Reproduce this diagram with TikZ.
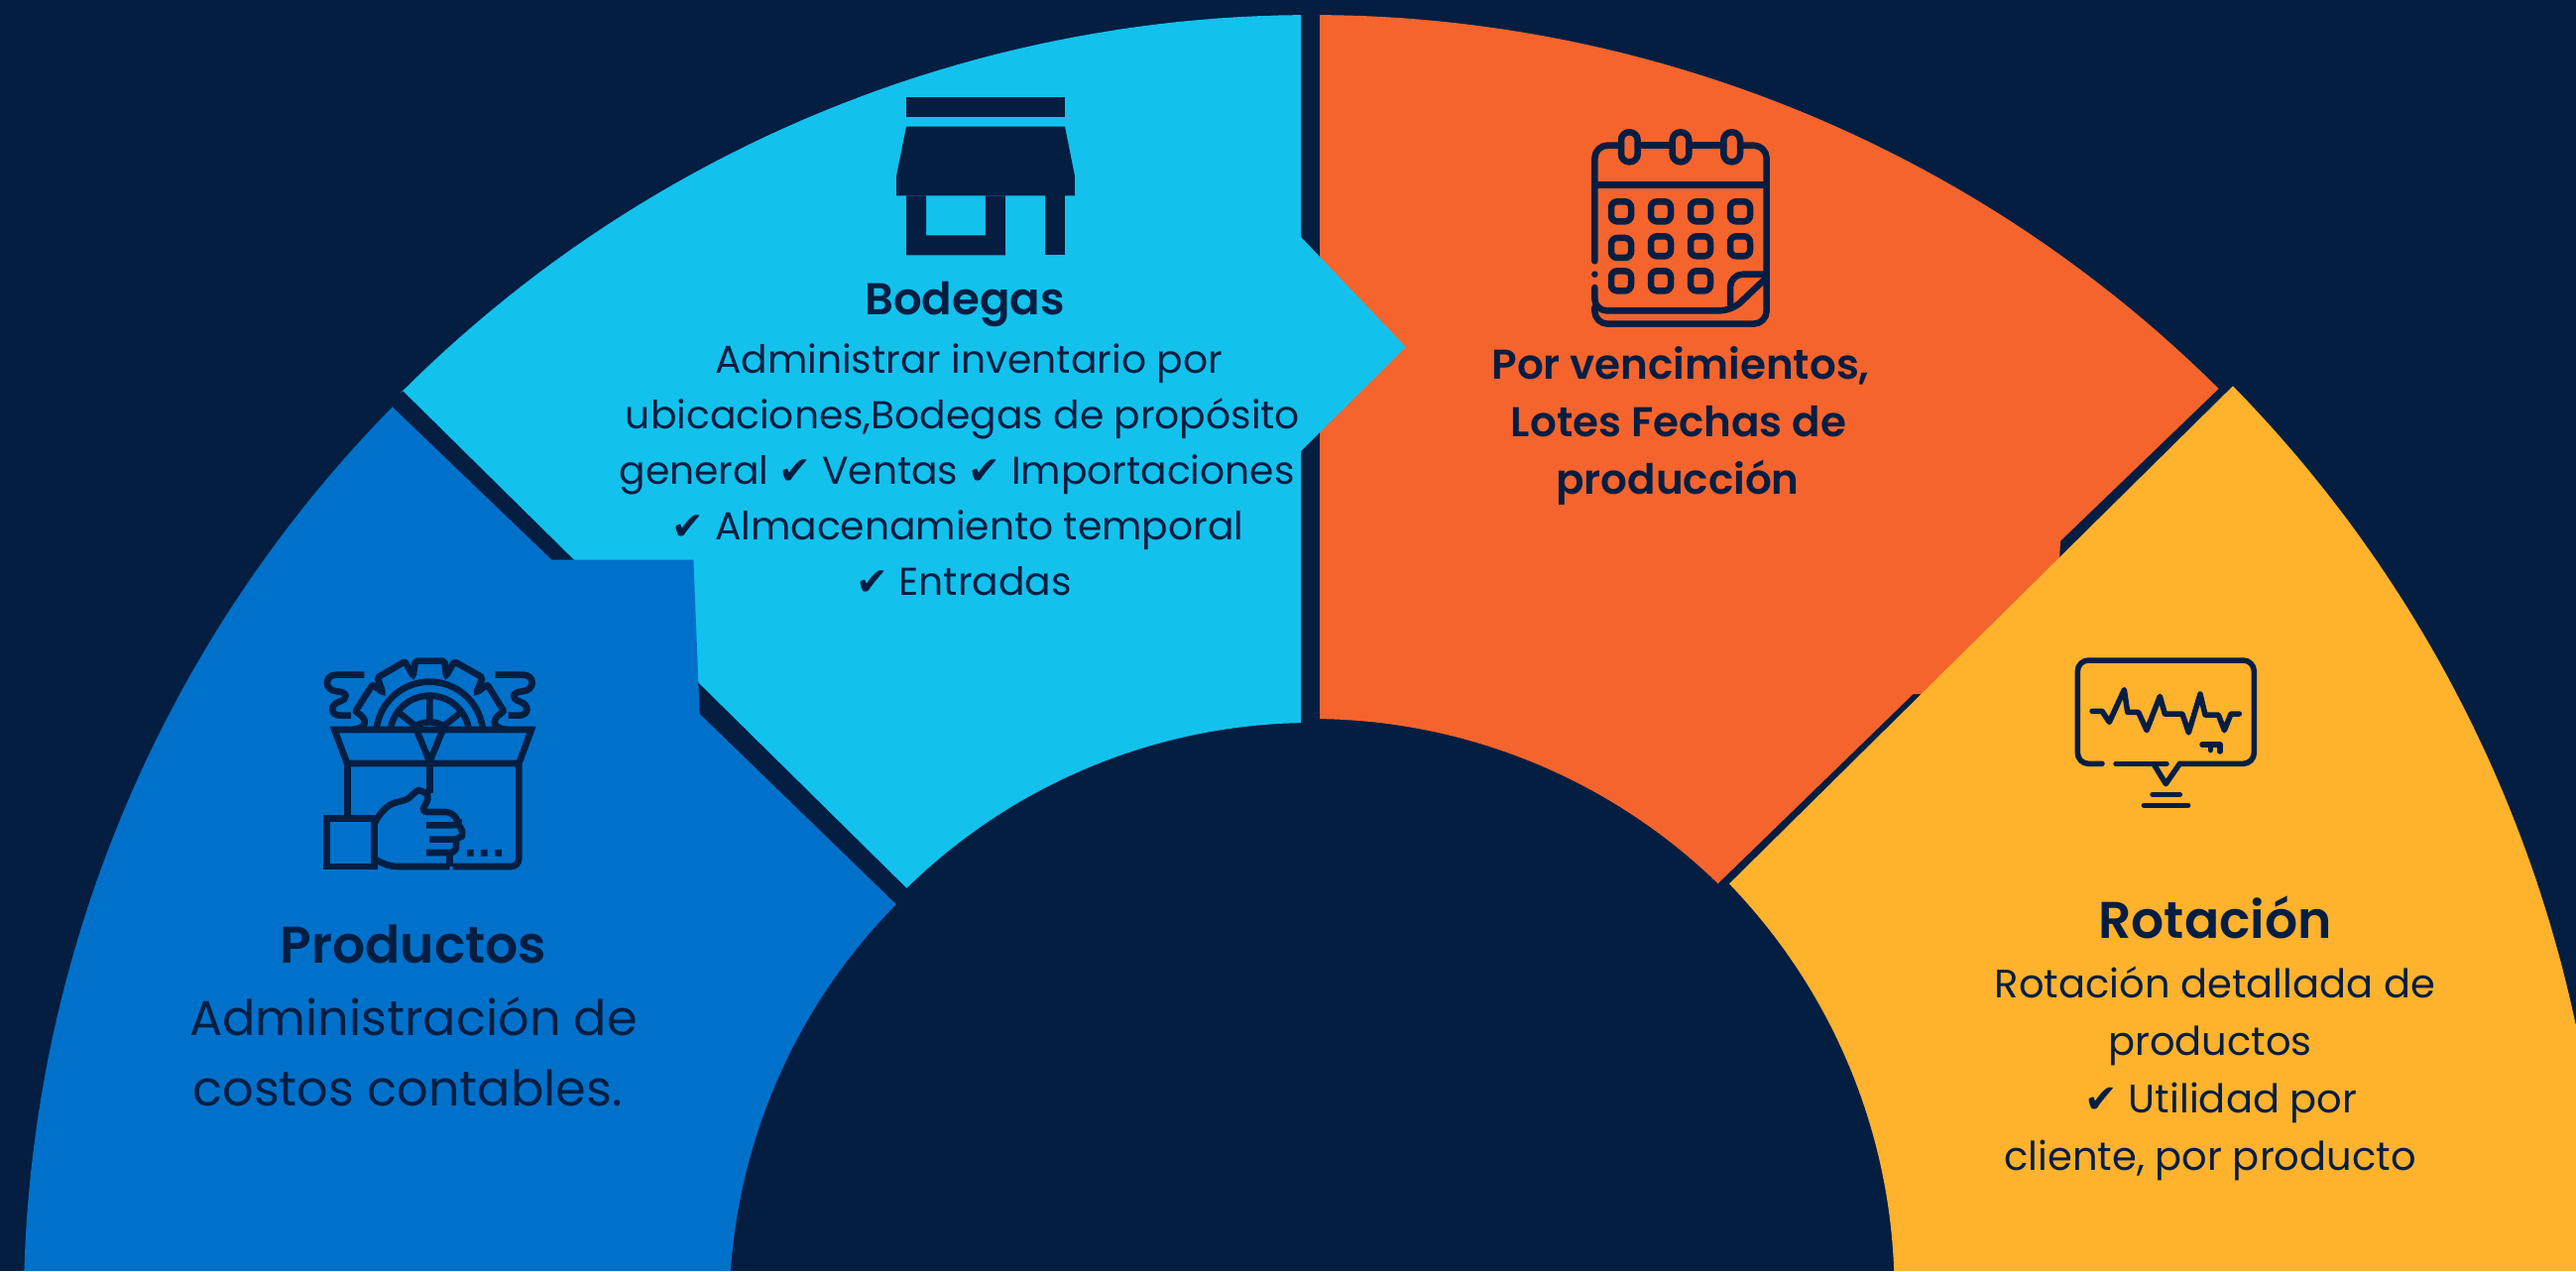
\documentclass[tikz,border=0pt]{standalone}
\usepackage{fontspec}
\setmainfont{Poppins}[BoldFont={Poppins SemiBold}]
\newfontfamily\checkfont{DejaVu Sans}
\definecolor{navy}{HTML}{041E42}
\definecolor{bluesec}{HTML}{0071CA}
\definecolor{cyansec}{HTML}{12C2EC}
\definecolor{orangesec}{HTML}{F5642D}
\definecolor{yellowsec}{HTML}{FFB22C}
\newcommand{\chk}{{\checkfont\char"2714}}
\tikzset{
  basetxt/.style={text=navy,inner sep=0pt,anchor=base},
  bodytxt/.style={basetxt,font=\fontsize{39.2}{48}\selectfont},
  rottxt/.style={basetxt,font=\fontsize{40}{48}\selectfont},
  bigtxt/.style={basetxt,font=\fontsize{49.4}{60}\selectfont},
  headtxt/.style={basetxt,font=\fontsize{45}{52}\selectfont\bfseries},
  largehead/.style={basetxt,font=\fontsize{52}{60}\selectfont\bfseries},
  subtxt/.style={basetxt,font=\fontsize{42}{48}\selectfont\bfseries},
  iconline/.style={draw=navy,line width=6.6pt,fill=none,line join=miter},
  iconround/.style={draw=navy,line width=6.5pt,fill=none,line cap=round,line join=round},
  thinround/.style={draw=navy,line width=5.5pt,fill=none,line cap=round,line join=round},
  iconfill/.style={fill=navy,draw=none},
}
\begin{document}
\begin{tikzpicture}[x=1pt,y=-1pt]
\useasboundingbox (0,0) rectangle (2598,1282);
\fill[navy] (0,0) rectangle (2598,1282);
% orange
\fill[orangesec] (1331,15)
  -- plot[domain=89.65:45.2,samples=50] ({1323+1298*cos(\x)},{1313-1298*sin(\x)})
  -- (2078,545.7) -- (2077,565) -- (1945,700) -- (1929.5,700) -- (1732.4,891.4)
  -- plot[domain=45.8:89.2,samples=50] ({1323+588*cos(\x)},{1313-588*sin(\x)})
  -- cycle;
% cyan
\fill[cyansec] (1312,15) -- (1312,239) -- (1417.7,350) -- (1312,455) -- (1312,729)
  -- plot[domain=91.1:134.4,samples=50] ({1323+584*cos(\x)},{1313-584*sin(\x)})
  -- (406,393.9)
  -- plot[domain=135.1:90.5,samples=50] ({1323+1298*cos(\x)},{1313-1298*sin(\x)})
  -- cycle;
% blue
\fill[bluesec] (395.6,410.4) -- (556.3,564.6) -- (699.4,564.6) -- (705.6,720) -- (903.4,911.8)
  -- plot[domain=136.3:177,samples=50] ({1323+(580+7*(\x-136.3)/40.7)*cos(\x)},{1313-(580+7*(\x-136.3)/40.7)*sin(\x)})
  -- (737,1282) -- (24,1282)
  -- plot[domain=178.6:135.8,samples=50] ({1323+(1299-5*(178.6-\x)/42.8)*cos(\x)},{1313-(1299-5*(178.6-\x)/42.8)*sin(\x)})
  -- cycle;
% yellow
\fill[yellowsec] (2252,389.3) -- (1744,891.4)
  -- plot[domain=45:3,samples=50] ({1323+(595.8-7.8*(45-\x)/42)*cos(\x)},{1313-(595.8-7.8*(45-\x)/42)*sin(\x)})
  -- (1911,1282) -- (2598,1282) -- (2598,1033)
  -- plot[domain=12.4:44.8,samples=50] ({1323+(1305+5*(\x-12.4)/32.4)*cos(\x)},{1313-(1305+5*(\x-12.4)/32.4)*sin(\x)})
  -- cycle;
% store icon
\begin{scope}[shift={(860,70)},x=0.3333pt,y=-0.3333pt]
\fill[iconfill] (162,83) rectangle (642,143);
\fill[iconfill] (162,173) -- (642,173) -- (672,323) -- (672,382) -- (132,382) -- (132,323) -- cycle;
\fill[iconfill] (162,382) -- (162,562) -- (462,562) -- (462,382) -- (402,382) -- (402,502) -- (222,502) -- (222,382) -- cycle;
\fill[iconfill] (582,382) rectangle (642,562);
\end{scope}
% calendar icon
\begin{scope}[shift={(1570,110)},x=0.3333pt,y=-0.3333pt]
\draw[iconround,rounded corners=13pt] (115,460) -- (115,110) -- (195,110);
\draw[iconround] (245,110) -- (350,110) (400,110) -- (505,110);
\draw[iconround,rounded corners=13pt] (555,110) -- (635,110) -- (635,650) -- (115,650) -- (115,600);
\draw[iconround,rounded corners=12pt] (115,540) -- (115,610) -- (530,610) -- (635,510);
\draw[iconround,rounded corners=13pt] (525,590) -- (525,500) -- (635,500);
\draw[iconround] (125,230) -- (625,230);
\foreach \rx in {195,350,505}
  \draw[iconround,rounded corners=8pt] (\rx,70) rectangle ++(50,90);
\fill[navy] (115,500) circle[radius=3.3pt];
\foreach \gx/\gy in {165/280,285/280,405/280,525/280,165/390,285/385,405/385,525/385,165/490,285/490,405/490}
  \draw[iconround,rounded corners=6pt] (\gx,\gy) rectangle ++(60,60);
\end{scope}
% box icon
\begin{scope}[shift={(280,620)},x=0.3333pt,y=-0.3333pt]
\draw[iconline,rounded corners=2pt] (225,348) .. controls (265,345) and (280,320) .. (235,293) -- (287,212) -- (318,235) -- (302,190) -- (385,142) -- (410,185) -- (417,140) -- (505,140) -- (510,185) -- (535,142) -- (620,190) -- (602,235) -- (635,212) -- (685,293) .. controls (640,320) and (655,345) .. (695,348);
\draw[iconline] plot[domain=8:172,samples=40] ({460+162*cos(\x)},{365-162*sin(\x)});
\draw[iconline] plot[domain=12:168,samples=40] ({460+120*cos(\x)},{365-120*sin(\x)});
\draw[iconline] (415,340) .. controls (435,320) and (485,320) .. (505,340);
\draw[iconline] (460,245) -- (460,322) (365,295) -- (415,335) (555,295) -- (505,335);
\draw[iconline] (172,348) -- (768,348) -- (730,450) -- (210,450) -- cycle;
\draw[iconline] (420,348) -- (460,445) -- (500,348);
\draw[iconline] (212,450) -- (212,612);
\draw[iconline,rounded corners=8pt] (730,450) -- (730,762) -- (530,762);
\draw[iconline] (460,450) -- (460,540);
\draw[iconline] (148,617) rectangle (293,762);
\draw[iconline,rounded corners=6pt] (295,628) .. controls (320,580) and (350,570) .. (375,565) .. controls (400,555) and (420,530) .. (445,535) -- (460,550) -- (435,597) -- (525,597) -- (548,625) -- (548,637) -- (450,637);
\draw[iconline,rounded corners=6pt] (548,637) -- (565,660) -- (550,680) -- (460,680);
\draw[iconline,rounded corners=6pt] (540,680) -- (540,720) -- (450,720);
\draw[iconline] (520,720) -- (520,762);
\draw[iconline] (295,740) .. controls (320,755) and (340,762) .. (365,762) -- (520,762);
\fill[iconfill] (573,711) rectangle ++(20,20) (615,711) rectangle ++(20,20) (658,711) rectangle ++(20,20);
\draw[iconline] (262,182) -- (178,182) .. controls (140,182) and (140,230) .. (180,232) .. controls (215,235) and (210,255) .. (190,262) .. controls (155,272) and (160,305) .. (190,305) -- (222,305);
\draw[iconline] (658,182) -- (742,182) .. controls (780,182) and (780,230) .. (740,232) .. controls (705,235) and (710,255) .. (730,262) .. controls (765,272) and (760,305) .. (730,305) -- (698,305);
\end{scope}
% monitor icon
\begin{scope}[shift={(2060,640)},x=0.3333pt,y=-0.3333pt]
\draw[thinround,rounded corners=11pt] (180,391) -- (106,391) -- (106,78) -- (640,78) -- (640,391) -- (415,391);
\draw[thinround] (415,391) -- (373,452) -- (338,395);
\draw[thinround] (222,391) -- (375,391);
\draw[thinround] (150,232) -- (180,232) -- (202,265) -- (247,167) -- (257,235) -- (290,235) -- (315,290) -- (355,187) -- (370,240) -- (423,240) -- (442,297) -- (477,180) -- (492,243) -- (532,243) -- (550,290) -- (570,240) -- (595,240);
\draw[thinround] (483,333) -- (537,333) -- (537,354) (508,340) -- (508,350);
\draw[thinround] (333,484) -- (415,484) (307,517) -- (440,517);
\end{scope}
% text
\node[headtxt] (bodegasTitle) at (973,317) {Bodegas};
\node[bodytxt] (bodegasA) at (977,376) {Administrar inventario por};
\node[bodytxt] (bodegasB) at (971,432) {ubicaciones,Bodegas de propósito};
\node[bodytxt] (bodegasC) at (965,488) {general \chk{} Ventas \chk{} Importaciones};
\node[bodytxt] (bodegasD) at (966,544) {\chk{} Almacenamiento temporal};
\node[bodytxt] (bodegasE) at (972,600) {\chk{} Entradas};
\node[subtxt] (venceA) at (1695,382) {Por vencimientos,};
\node[subtxt] (venceB) at (1693,440) {Lotes Fechas de};
\node[subtxt] (venceC) at (1692,498) {producción};
\node[largehead] (prodTitle) at (417,971) {Productos};
\node[bigtxt] (prodA) at (417,1044) {Administración de};
\node[bigtxt] (prodB) at (411,1115) {costos contables.};
\node[largehead] (rotTitle) at (2234,946) {Rotación};
\node[rottxt] (rotA) at (2234,1006) {Rotación detallada de};
\node[rottxt] (rotB) at (2229,1064) {productos};
\node[rottxt] (rotC) at (2240,1122) {\chk{} Utilidad por};
\node[rottxt] (rotD) at (2229,1180) {cliente, por producto};
\end{tikzpicture}
\end{document}
